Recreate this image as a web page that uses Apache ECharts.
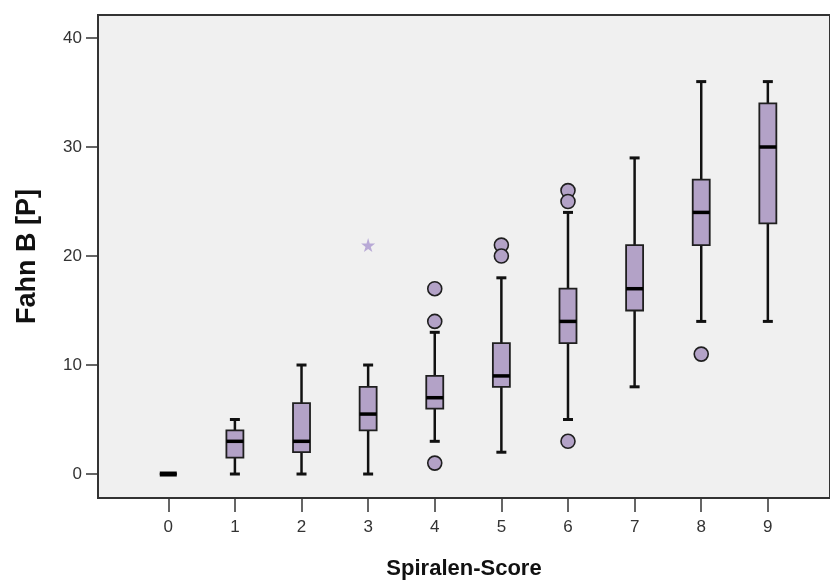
<!DOCTYPE html>
<html>
<head>
<meta charset="utf-8">
<script src="https://cdn.jsdelivr.net/npm/echarts@6/dist/echarts.min.js"></script>
<style>
html,body{margin:0;padding:0;background:#fff;}
#chart{width:830px;height:587px;}
</style>
</head>
<body>
<div id="chart"></div>
<script>
// ---- data ----
var categories = [0, 1, 2, 3, 4, 5, 6, 7, 8, 9];
var mins    = [0, 0,   0,   0,   3, 2,  5,  8, 14, 14];
var q1s     = [0, 1.5, 2,   4,   6, 8, 12, 15, 21, 23];
var medians = [0, 3,   3,   5.5, 7, 9, 14, 17, 24, 30];
var q3s     = [0, 4,   6.5, 8,   9, 12, 17, 21, 27, 34];
var maxs    = [0, 5,  10,  10,  13, 18, 24, 29, 36, 36];
var outlierX = [4, 4, 4, 5, 5, 6, 6, 6, 8];
var outlierY = [17, 14, 1, 21, 20, 26, 25, 3, 11];
var extremeX = [3];
var extremeY = [21];
var yTicks = [0, 10, 20, 30, 40];

var boxData = categories.map(function (c, i) {
  return [c, mins[i], q1s[i], medians[i], q3s[i], maxs[i]];
});
var outlierData = outlierX.map(function (x, i) { return [x, outlierY[i]]; });
var extremeData = extremeX.map(function (x, i) { return [x, extremeY[i]]; });

var FILL = '#B3A2C7';
var INK = '#111111';
var FONT = '"Liberation Sans", Arial, sans-serif';

function renderBox(params, api) {
  var x = api.value(0);
  var pMin = api.coord([x, api.value(1)]);
  var pQ1 = api.coord([x, api.value(2)]);
  var pMed = api.coord([x, api.value(3)]);
  var pQ3 = api.coord([x, api.value(4)]);
  var pMax = api.coord([x, api.value(5)]);
  var cx = pMed[0];
  var hw = 8.5, cw = 5;
  var children = [];
  if (pMax[1] < pQ3[1]) {
    children.push({type: 'line', shape: {x1: cx, y1: pMax[1], x2: cx, y2: pQ3[1]}, style: {stroke: INK, lineWidth: 2.5}});
    children.push({type: 'line', shape: {x1: cx - cw, y1: pMax[1], x2: cx + cw, y2: pMax[1]}, style: {stroke: INK, lineWidth: 3}});
  }
  if (pMin[1] > pQ1[1]) {
    children.push({type: 'line', shape: {x1: cx, y1: pQ1[1], x2: cx, y2: pMin[1]}, style: {stroke: INK, lineWidth: 2.5}});
    children.push({type: 'line', shape: {x1: cx - cw, y1: pMin[1], x2: cx + cw, y2: pMin[1]}, style: {stroke: INK, lineWidth: 3}});
  }
  children.push({type: 'rect', shape: {x: cx - hw, y: pQ3[1], width: 2 * hw, height: pQ1[1] - pQ3[1]},
    style: {fill: FILL, stroke: '#1f1f1f', lineWidth: 1.8}});
  children.push({type: 'line', shape: {x1: cx - hw, y1: pMed[1], x2: cx + hw, y2: pMed[1]},
    style: {stroke: '#000', lineWidth: pQ1[1] - pQ3[1] < 1 ? 5 : 3.5}});
  return {type: 'group', children: children};
}

var chart = echarts.init(document.getElementById('chart'), null, {renderer: 'canvas'});
chart.setOption({
  animation: false,
  backgroundColor: '#ffffff',
  grid: {
    left: 98, top: 15, right: -2, bottom: 89,
    show: true, backgroundColor: '#F0F0F0', borderColor: '#333333', borderWidth: 2
  },
  xAxis: {
    type: 'value',
    min: -1.055, max: 9.933,
    name: 'Spiralen-Score',
    nameLocation: 'middle',
    nameGap: 60,
    nameTextStyle: {fontFamily: FONT, fontWeight: 'bold', fontSize: 22, color: '#111'},
    axisLine: {show: false, onZero: false},
    splitLine: {show: false},
    axisTick: {show: true, customValues: categories, length: 14, lineStyle: {color: '#333', width: 1.5}},
    axisLabel: {customValues: categories, margin: 21, fontFamily: FONT, fontSize: 17, color: '#333'}
  },
  yAxis: {
    type: 'value',
    min: -2.2, max: 42.11,
    name: 'Fahn B [P]',
    nameLocation: 'middle',
    nameGap: 57,
    nameTextStyle: {fontFamily: FONT, fontWeight: 'bold', fontSize: 27, color: '#111'},
    axisLine: {show: false, onZero: false},
    splitLine: {show: false},
    axisTick: {show: true, customValues: yTicks, length: 12, lineStyle: {color: '#333', width: 1.5}},
    axisLabel: {customValues: yTicks, margin: 16, fontFamily: FONT, fontSize: 17, color: '#333'}
  },
  series: [
    {
      type: 'custom',
      name: 'box',
      renderItem: renderBox,
      encode: {x: 0, y: [1, 2, 3, 4, 5]},
      data: boxData,
      z: 3
    },
    {
      type: 'scatter',
      name: 'outliers',
      data: outlierData,
      symbol: 'circle',
      symbolSize: 14,
      itemStyle: {color: FILL, borderColor: '#1f1f1f', borderWidth: 1.6, opacity: 1},
      z: 4
    },
    {
      type: 'scatter',
      name: 'extremes',
      data: extremeData,
      symbol: 'path://M50,0 L61,35 L98,35 L68,57 L79,91 L50,70 L21,91 L32,57 L2,35 L39,35 Z',
      symbolSize: 14,
      itemStyle: {color: '#B8A9D6', opacity: 1},
      z: 4
    }
  ]
});
</script>
</body>
</html>
